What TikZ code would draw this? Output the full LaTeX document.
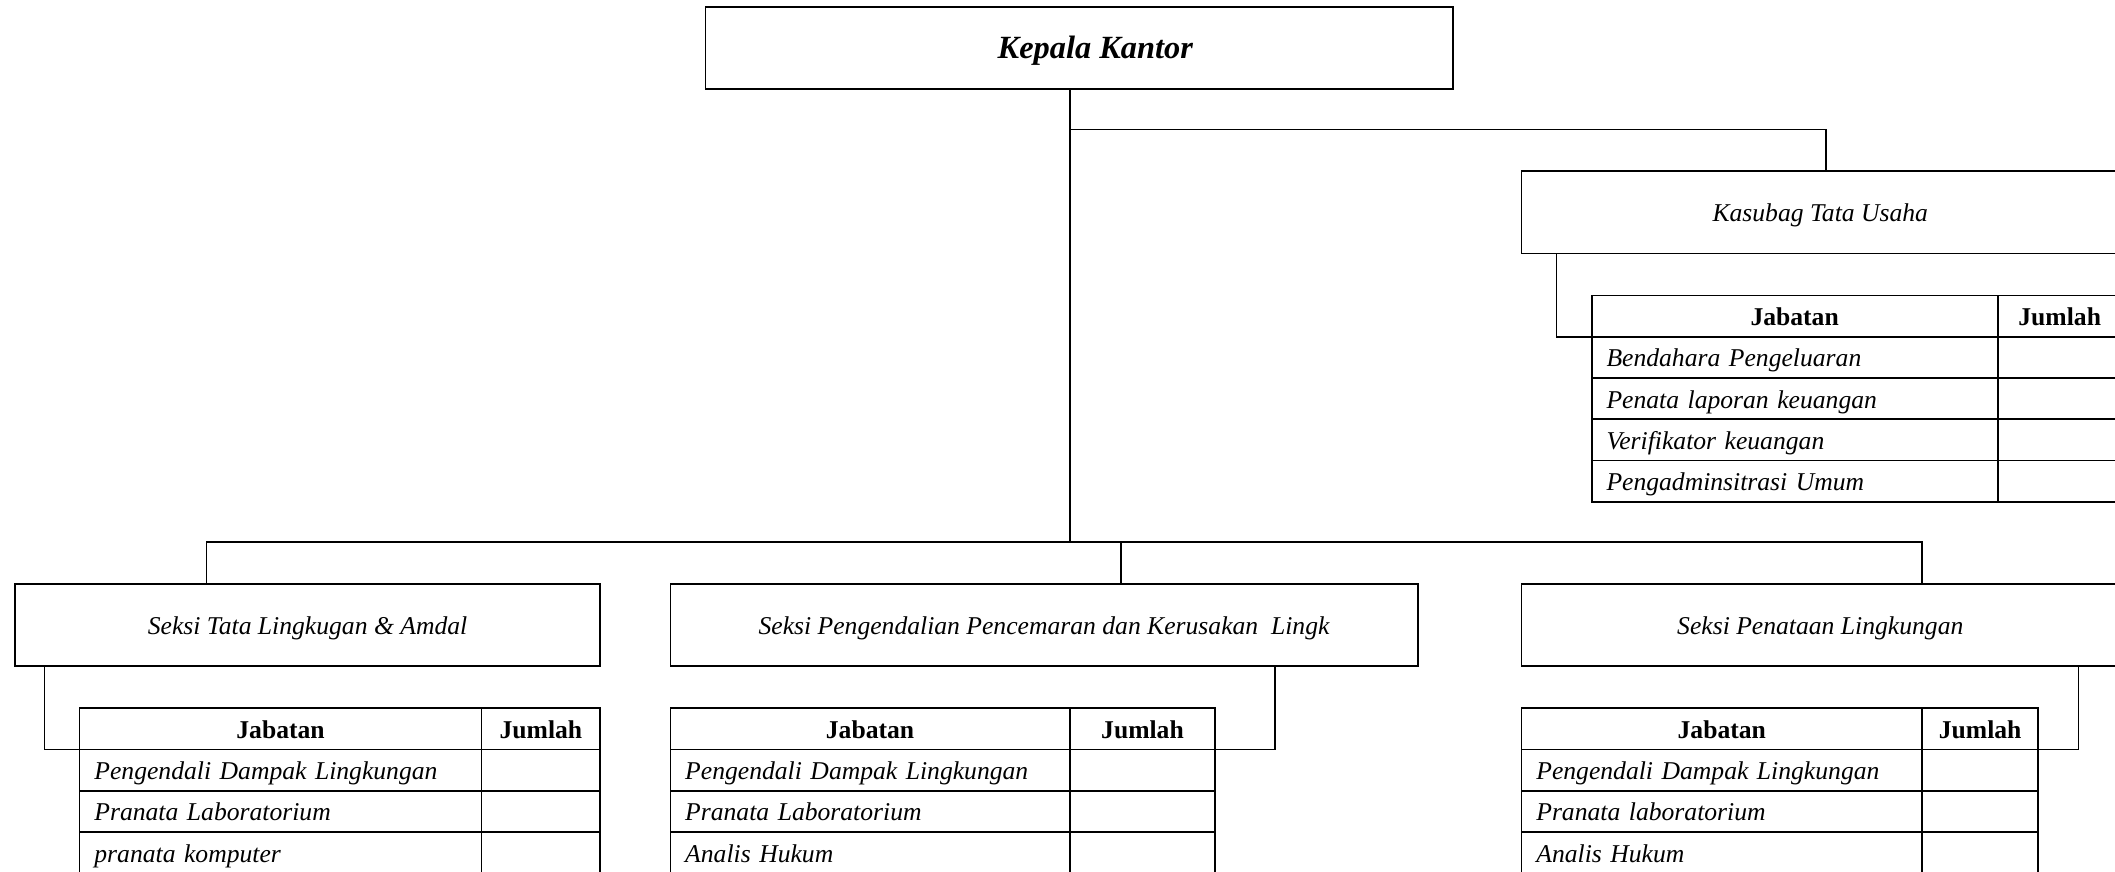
\documentclass[tikz,border=0pt]{standalone}
\usepackage{fontspec}
\setmainfont{Liberation Serif}
\tikzset{
  base/.style={draw, line width=1.3pt, outer sep=0pt, inner sep=0pt, anchor=north west},
  unitbox/.style={base, minimum height=61pt, text height=17pt, text depth=3pt, font=\fontsize{19}{22}\selectfont\itshape},
  hcell/.style={base, minimum height=30.6pt, text height=17pt, text depth=3pt, font=\fontsize{19}{22}\selectfont\bfseries},
  rcell/.style={base, minimum height=30.6pt, text height=17pt, text depth=3pt, align=left, inner xsep=11pt, font=\fontsize{19}{22}\selectfont\itshape},
  ecell/.style={base, minimum height=30.6pt},
  link/.style={line width=1.3pt}
}
\newcommand\jtable[6]{%
  \node[hcell, minimum width=#4] (#1h1) at (#2,#3) {Jabatan};
  \node[hcell, minimum width=#5] (#1h2) at (#1h1.north east) {Jumlah};
  \pgfmathsetmacro\jtw{#4-22}
  \foreach \t [count=\i] in {#6} {
    \node[rcell, text width=\jtw pt] (#1r\i a) at (#2,#3+\i*30.6) {\t};
    \node[ecell, minimum width=#5] (#1r\i b) at (#1r\i a.north east) {};
  }
}
\begin{document}
\begin{tikzpicture}[x=1pt,y=-1pt]
\useasboundingbox (0,0) rectangle (1568,646);
\clip (0,0) rectangle (1568,646);
\fill[white] (0,0) rectangle (1568,646);

% boxes
\node[base, minimum width=554pt, minimum height=61pt, text height=20pt, text depth=4pt, font=\fontsize{24}{27}\selectfont\bfseries\itshape] (k) at (523,5) {\hspace*{24pt}Kepala Kantor};
\node[unitbox, minimum width=443pt] (ks) at (1128,127) {Kasubag Tata Usaha};
\node[unitbox, minimum width=434pt] (s1) at (11,433) {Seksi Tata Lingkugan \& Amdal};
\node[unitbox, minimum width=554pt] (s2) at (497,433) {Seksi Pengendalian Pencemaran dan Kerusakan\ \ Lingk};
\node[unitbox, minimum width=443pt] (s3) at (1128,433) {Seksi Penataan Lingkungan};

% tables
\jtable{t0}{1180}{219}{301}{92}{Bendahara Pengeluaran,Penata laporan keuangan,Verifikator keuangan,Pengadminsitrasi Umum}
\jtable{t1}{59}{525}{298}{88}{Pengendali Dampak Lingkungan,Pranata Laboratorium,pranata komputer}
\jtable{t2}{497}{525}{296}{108}{Pengendali Dampak Lingkungan,Pranata Laboratorium,Analis Hukum}
\jtable{t3}{1128}{525}{297}{86}{Pengendali Dampak Lingkungan,Pranata laboratorium,Analis Hukum}

% junction coordinates
\coordinate (j0) at (793,96);
\coordinate (j1) at (793,402);
\coordinate (xk) at (1354,0);
\coordinate (b1) at (153,402);
\coordinate (b2) at (831,402);
\coordinate (b3) at (1425,402);
\coordinate (xt0) at (1154,0);
\coordinate (xt1) at (33,0);
\coordinate (xt2) at (945,0);
\coordinate (xt3) at (1541,0);

% connectors
\draw[link] (k.south -| j1) -- (j1);
\draw[link] (j0) -| (ks.north -| xk);
\draw[link] (s1.north -| b1) -- (b1) -- (b3) -- (s3.north -| b3);
\draw[link] (b2) -- (s2.north -| b2);
\draw[link] (ks.south -| xt0) |- (t0h1.south west);
\draw[link] (s1.south -| xt1) |- (t1h1.south west);
\draw[link] (s2.south -| xt2) |- (t2h2.south east);
\draw[link] (s3.south -| xt3) |- (t3h2.south east);
\end{tikzpicture}
\end{document}
